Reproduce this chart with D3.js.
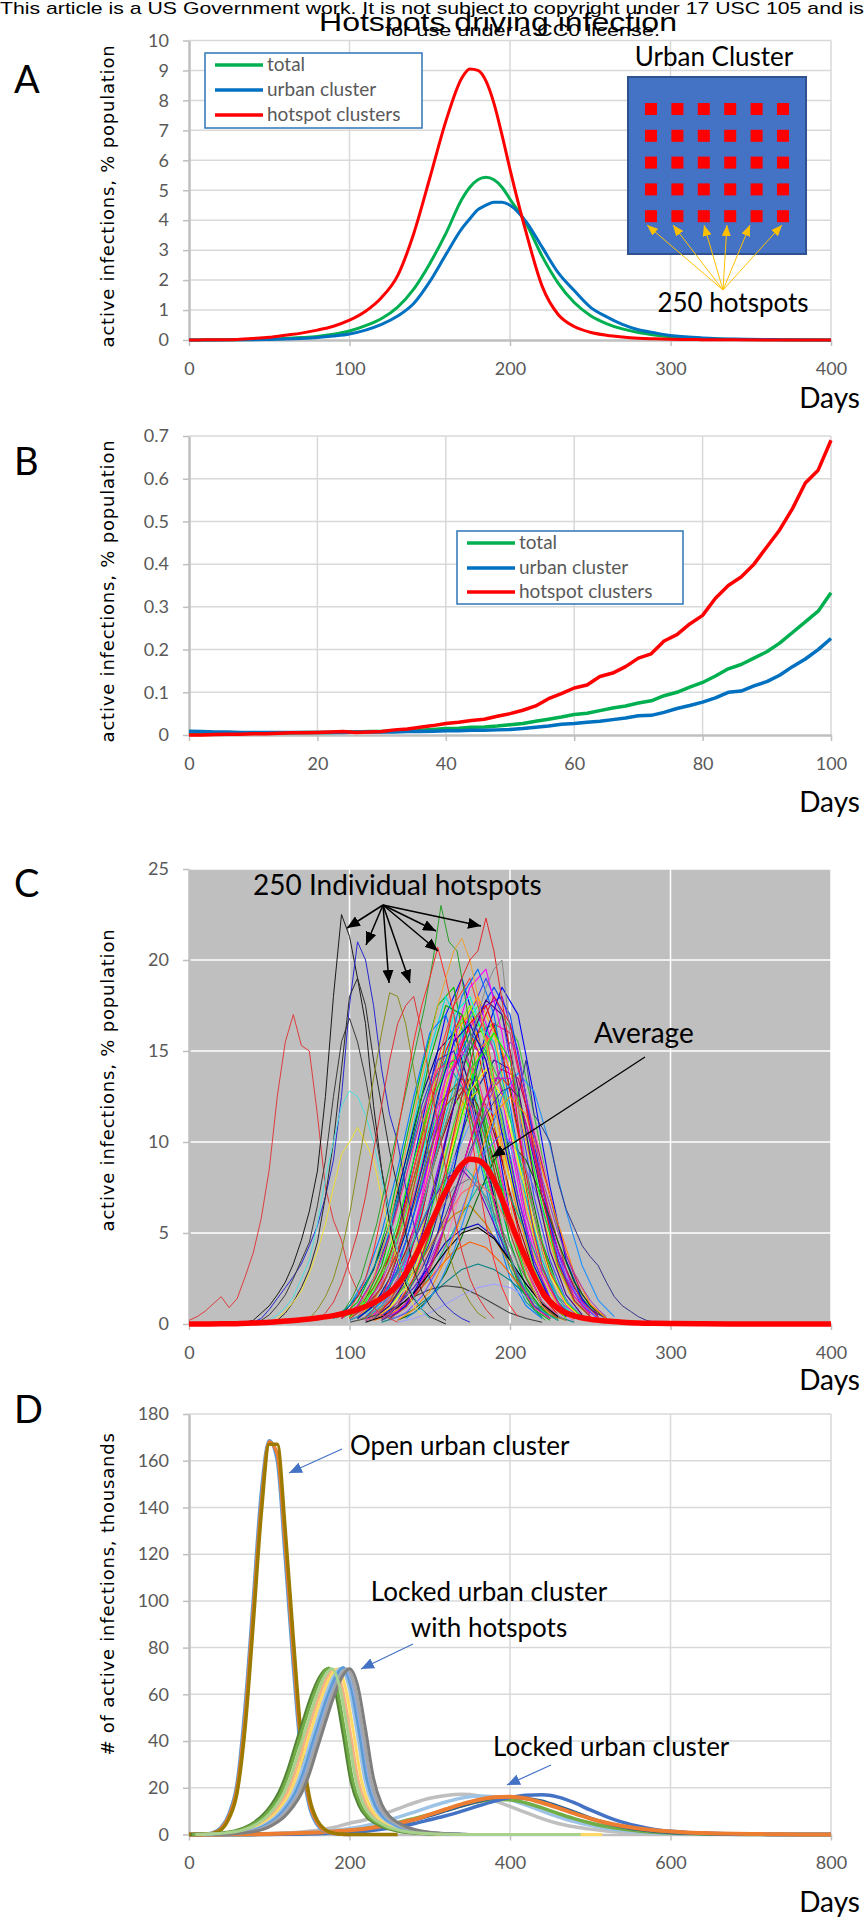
<!DOCTYPE html>
<html>
<head>
<meta charset="utf-8">
<script src="https://cdn.jsdelivr.net/npm/d3@7"></script>
<style>
  body { margin: 0; background: #fff; }
  svg { display: block; }
</style>
</head>
<body>
<div id="chart"></div>
<script>
// ---- panel A: whole epidemic, % population ----
const daysA = [0,10,20,30,40,50,60,70,80,90,100,110,120,130,140,150,160,170,175,180,185,190,195,200,210,220,230,240,250,260,270,280,290,300,320,340,370,400];
const hotspotA = [0,0.005,0.01,0.02,0.05,0.09,0.16,0.23,0.33,0.46,0.66,0.96,1.42,2.15,3.55,5.4,7.3,8.75,9.05,9.0,8.65,7.9,6.85,5.7,3.6,1.8,0.85,0.45,0.26,0.16,0.1,0.06,0.04,0.025,0.012,0.006,0.002,0];
const totalA = [0,0.002,0.005,0.01,0.02,0.035,0.05,0.08,0.12,0.19,0.3,0.48,0.72,1.1,1.7,2.55,3.55,4.7,5.1,5.35,5.43,5.35,5.1,4.7,3.9,2.8,1.9,1.25,0.82,0.55,0.37,0.25,0.17,0.11,0.05,0.02,0.006,0];
const urbanA = [0,0.001,0.003,0.006,0.01,0.02,0.03,0.05,0.08,0.13,0.2,0.33,0.52,0.8,1.22,1.95,2.85,3.72,4.05,4.35,4.5,4.6,4.6,4.5,3.95,3.1,2.25,1.65,1.1,0.78,0.52,0.34,0.24,0.15,0.07,0.03,0.01,0];

// ---- panel B: first 100 days ----
const daysB = d3.range(0, 101, 2);
const hotspotB = [0,0,0.001,0.002,0.002,0.003,0.003,0.004,0.005,0.005,0.006,0.007,0.008,0.006,0.007,0.008,0.012,0.014,0.018,0.022,0.027,0.030,0.034,0.037,0.044,0.050,0.058,0.068,0.085,0.097,0.110,0.117,0.137,0.145,0.160,0.180,0.190,0.220,0.235,0.260,0.280,0.320,0.350,0.370,0.400,0.440,0.480,0.530,0.590,0.620,0.690];
const totalB = [0.004,0.004,0.004,0.004,0.004,0.004,0.005,0.005,0.005,0.006,0.006,0.006,0.007,0.007,0.008,0.008,0.009,0.010,0.011,0.013,0.015,0.016,0.018,0.019,0.021,0.024,0.027,0.032,0.037,0.042,0.048,0.051,0.057,0.063,0.068,0.075,0.080,0.092,0.100,0.112,0.123,0.138,0.155,0.165,0.180,0.195,0.215,0.240,0.265,0.290,0.333];
const urbanB = [0.009,0.008,0.007,0.007,0.006,0.006,0.006,0.006,0.006,0.006,0.006,0.006,0.006,0.007,0.007,0.007,0.007,0.008,0.008,0.009,0.010,0.010,0.011,0.011,0.012,0.013,0.015,0.018,0.021,0.025,0.027,0.030,0.032,0.036,0.040,0.045,0.046,0.053,0.062,0.069,0.077,0.087,0.100,0.103,0.115,0.125,0.140,0.160,0.178,0.200,0.226];

const legendNames = ['total', 'urban cluster', 'hotspot clusters'];
const legendColors = ['#00b050', '#0070c0', '#ff0000'];

// ---- panel C: individual hotspots (first value at start day) ----
// sharp outliers, sampled every 5 days
const hiStart = [0, 35, 40, 45, 55, 50, 55, 75, 80, 92, 95, 100, 110, 115, 120, 120];
const hiValues = [
  [0.2,0.4,0.7,1.1,1.5,0.9,1.4,2.6,3.9,5.8,8.5,12.5,15.5,17.0,15.3,15.0,11.5,7.5,5.7,4.6,2.8,1.8,1.2,0.9,0.5,0.3,0.1],
  [0.1,0.2,0.6,1.0,1.6,2.3,3.3,4.6,6.2,8.4,12.5,18.0,22.5,21.3,19.0,16.5,12.0,8.5,5.5,3.4,2.2,1.4,0.8,0.4,0.2,0],
  [0.1,0.3,0.8,1.4,2.0,2.6,3.3,4.3,5.4,7.0,9.0,12.5,17.5,21.0,20.0,17.5,14.0,11.5,10.0,7.5,5.5,3.8,2.5,1.6,1.0,0.6,0.3,0.1],
  [0.2,0.5,1.0,1.6,2.5,3.5,4.5,6.5,9.0,12.5,15.5,16.8,15.5,13.5,11.0,8.5,6.0,4.0,2.5,1.5,0.8,0.3],
  [0.2,0.6,1.2,2.0,3.0,4.5,7.0,10.0,14.0,18.0,19.0,17.5,14.5,12.0,9.5,7.5,5.0,3.0,1.8,1.0,0.5,0.2],
  [0.2,0.5,0.9,1.5,2.5,3.5,5.5,8.0,10.0,12.0,12.8,12.5,11.5,10.0,8.0,6.0,4.0,2.5,1.5,0.8,0.3],
  [0.3,0.7,1.2,1.8,2.8,4.0,5.5,7.5,9.3,10.0,10.8,10.0,9.0,7.0,5.0,3.5,2.0,1.0,0.5],
  [0.3,0.8,1.5,2.5,4.0,6.0,8.5,11.0,13.5,16.0,18.2,18.0,16.5,14.0,11.5,9.0,6.5,4.5,3.0,2.0,1.2,0.6,0.3],
  [0.2,0.6,1.2,2.2,3.5,5.0,7.0,9.5,12.0,14.5,16.5,17.5,18.0,16.0,13.5,11.0,8.5,6.0,4.0,2.5,1.5,0.8,0.3],
  [0.3,0.8,1.5,2.5,4.0,5.5,7.5,9.5,11.5,13.5,15.5,17.5,20.0,23.0,21.0,20.5,18.0,15.0,12.0,9.0,6.5,4.5,3.0,2.0,1.2,0.6,0.2],
  [0.3,0.8,1.5,2.5,4.0,6.0,8.0,10.5,13.0,15.5,17.5,19.0,20.7,19.0,17.0,14.0,11.0,8.0,5.5,3.5,2.0,1.0,0.4],
  [0.3,0.8,1.5,2.5,4.0,5.5,7.5,9.5,11.5,13.5,15.5,17.5,19.0,20.5,21.2,20.0,18.0,15.5,12.5,9.5,6.5,4.5,3.0,1.8,1.0,0.5],
  [0.3,0.8,1.5,2.5,3.8,5.5,7.5,9.5,11.5,13.5,15.5,17.5,19.0,20.0,20.5,22.3,20.5,17.8,15.0,11.0,7.5,5.0,3.2,2.0,1.2,0.6,0.3],
  [0.3,0.8,1.5,2.5,3.8,5.0,6.5,8.0,9.5,11.0,12.5,14.0,15.5,17.0,18.5,19.5,20.0,16.0,12.0,8.5,6.0,4.0,2.5,1.5,0.8,0.3],
  [0.2,0.5,1.0,1.6,2.3,3.0,4.0,5.0,6.0,7.2,8.3,9.5,10.5,11.5,12.2,12.8,13.0,12.5,14.5,11.5,10.8,10.0,7.8,6.3,5.3,4.3,3.7,3.2,2.3,1.5,1.0,0.7,0.4,0.2,0.1],
  [0.3,0.6,1.0,1.5,2.0,2.7,3.5,4.5,5.5,6.7,8.0,9.2,10.5,11.8,13.0,14.2,15.5,15.0,12.5,10.5,8.0,6.5,5.0,3.8,2.8,2.0,1.3,0.8,0.4]
];
const hiColors = ['#e03c3c','#1a1a1a','#2828d0','#3a3a3a','#2a2a2a','#4ae0e0','#f0e030','#8c8c1e','#e03232','#28a028','#ff2a2a','#f0a030','#e62828','#8a8a8a','#34348a','#a030c8'];

// the dense bulk, sampled every 10 days
const massStart = [100,110,95,105,100,115,100,110,90,105,120,95,110,100,115,105,125,100,90,110,120,105,115,100,130,95,105,110,100,120,105,110,115,120,100,130,125,95,120,110,
  115,105,125,115,100,105,120,110,100,115,95,125,110,120,105,130,110,125,115,120,110,100,135,95,105,115,130,100,120,105];
const massValues = [
  [0.3,1,2.5,5,9,13,17,19,16,11,6,3,1.2,0.4],
  [0.2,0.8,2,4.5,8,12.5,16,18,15,10,5.5,2.5,1,0.3],
  [0.4,1.2,3,6,10,14,17.5,18.5,14,9,5,2.2,0.8,0.2],
  [0.3,1,2.5,5.5,9.5,13,16,17,14.5,10,6,3,1.2,0.4],
  [0.5,1.5,3.5,7,11,15,18,16,12,8,4.5,2,0.8,0.2],
  [0.3,1,2.5,5,8.5,12,15.5,17.5,18,15,10,5.5,2.5,1,0.3],
  [0.3,1,2.5,5,8.5,12,15,17,15,11,7,3.5,1.5,0.5],
  [0.3,1,2.5,5,8,11,14,16,16.5,13,8.5,4.5,2,0.7,0.2],
  [0.3,1,2.5,5,8.5,12.5,16,17,14,9.5,5.5,2.5,1,0.3],
  [0.3,1.2,3,6,10,14,17,18,15.5,11,6.5,3,1.2,0.4],
  [0.3,1,2.5,5,8,11.5,14.5,16.5,16,12,7,3.5,1.5,0.5],
  [0.5,1.5,3,5.5,9,12.5,15,16,13,9,5,2.5,1,0.3],
  [0.4,1.3,3,6,9.5,13,16,17.5,15,10.5,6,3,1.2,0.4],
  [0.3,1,2,4,7,10,12.5,13.5,12,9,5.5,3,1.2,0.4],
  [0.3,1.2,3,6,10,14,17,19,17,12,7,3.5,1.3,0.4],
  [0.4,1.3,3,6.5,10.5,14.5,17.5,19,16,11,6.5,3,1.2,0.3],
  [0.3,1,2.5,5,8.5,12,15,17,15.5,11.5,7,3.5,1.4,0.5],
  [0.3,1,2.3,4.5,8,11.5,14.5,15.5,13,9.5,6,3,1.2,0.4],
  [0.3,1,2.2,4,7,10,13,14.5,13,10,6,3,1.2,0.4],
  [0.3,1,2.5,5,9,13,16.5,18,16,11.5,6.5,3,1.2,0.3],
  [0.3,1,2.5,4.5,7.5,10.5,13,14.5,14,11,7,4,2,0.8,0.3],
  [0.3,1,2,4,6.5,9.5,12,13.5,12,9,5.5,2.8,1.1,0.3],
  [0.3,1,2,4,6.5,9,11,12,11,8.5,5.5,3,1.3,0.4],
  [0.4,1.2,2.8,5.5,9,12,14,15,13,9.5,5.5,2.6,1,0.3],
  [0.3,1,2.2,4.5,7.5,10.5,13,14,12.5,9,5.5,2.8,1.1,0.3],
  [0.3,0.9,2,3.8,6.5,9.5,12,13,11.5,8.5,5,2.5,1,0.3],
  [0.3,1,2.2,4.5,7.5,11,14,16,15,11.5,7,3.5,1.4,0.4],
  [0.3,0.9,2,3.8,6.5,9.5,12,12.8,11,8,5,2.5,1,0.3],
  [0.2,0.6,1.4,2.8,4.5,6.5,8,8.5,7.5,5.5,3.5,1.8,0.7,0.2],
  [0.2,0.6,1.4,2.6,4.3,6,7.5,8,7,5,3,1.5,0.6,0.2],
  [0.2,0.5,1.2,2.2,3.5,5,6,6.5,5.5,4,2.5,1.2,0.5,0.2],
  [0.2,0.5,1,2,3.2,4.5,5.2,5.5,4.8,3.5,2.2,1.1,0.4],
  [0.2,0.5,1.1,2,3,4,4.5,4.2,3.3,2.2,1.3,0.6,0.2],
  [0.1,0.4,0.8,1.5,2.3,3,3.3,3,2.4,1.6,0.9,0.4,0.1],
  [0.1,0.3,0.6,1.0,1.5,1.9,2.1,2.0,1.6,1.1,0.6,0.3,0.1],
  [0.1,0.3,0.6,1.1,1.6,2.0,2.2,2.0,1.5,1.0,0.5,0.2],
  [0.3,1,2.2,4.2,7,10,12.5,14,13.5,10.5,7,3.8,1.6,0.5],
  [0.3,0.8,1.8,3.5,6,9,11.5,12.5,11,8,5,2.5,1,0.3],
  [0.4,1.2,3,6,10,14,17,18.5,17,12.5,7.5,3.5,1.3,0.4],
  [0.3,1,2.5,5,8.5,12.5,15.5,17,15,10.5,6,2.8,1.1,0.3],
  [0.5,1.5,3.5,7,11.5,15.5,18.5,19.5,16,11,6,2.8,1,0.3],
  [0.3,1,2.5,5,9,13.5,17,18,15.5,11,6.5,3,1.2,0.4],
  [0.3,1,2.5,5,8.5,12.5,16,18.5,17,12.5,7.5,3.5,1.3,0.4],
  [0.3,1.2,3,6,10,14,16.5,17.5,15,10.5,6,2.8,1.1,0.3],
  [0.4,1.4,3.2,6.5,10.5,14.5,17.5,17,13,8.5,4.5,2,0.8,0.2],
  [0.3,1,2.2,4.5,7.5,11,14,15.5,14.5,11,7,3.5,1.4,0.4],
  [0.3,1,2.5,5,8.5,12,15,16,14,10,6,3,1.2,0.4],
  [0.4,1.2,3,6,10,14.5,18,19.5,17,12,7,3.2,1.2,0.3],
  [0.3,0.9,2,4,7,10.5,13.5,15,13.5,10,6,3,1.2,0.4],
  [0.3,1,2.2,4.5,7.5,11,14,15,13,9.5,6,3,1.2,0.4],
  [0.3,1,2.5,5,8.5,12,14.5,15,12.5,8.5,5,2.5,1,0.3],
  [0.3,0.9,2,4,7,10,12.5,13.5,12.5,9.5,6,3,1.2,0.4],
  [0.3,1,2.3,4.6,8,11.5,14.5,16.5,15.5,11.5,7,3.5,1.4,0.4],
  [0.2,0.7,1.6,3.2,5.5,8.5,11.5,13.5,13.5,11,7.5,4,1.8,0.6],
  [0.2,0.6,1.3,2.5,4.2,6,7.5,8,7,5.2,3.3,1.7,0.7,0.2],
  [0.2,0.6,1.4,2.8,4.8,7,9,10,9,7,4.5,2.3,1,0.3],
  [0.2,0.5,1.2,2.4,4,5.8,7.2,7.8,7,5.2,3.3,1.7,0.7,0.2],
  [0.2,0.6,1.5,3,5,7.5,9.5,10.5,9.5,7.5,5,2.6,1.1,0.3],
  [0.3,0.9,2,4,6.8,10,12.8,14,12.5,9,5.5,2.7,1.1,0.3],
  [0.3,1,2.4,4.8,8,11.5,14.5,16,14.5,10.5,6.5,3.2,1.3,0.4],
  [0.1,0.4,0.9,1.7,2.8,4,5,5.3,4.7,3.5,2.2,1.1,0.4],
  [0.3,0.9,2,4,6.5,9.5,12,13,11.5,8.5,5,2.5,1,0.3],
  [0.3,0.9,2,4,6.8,9.8,12.5,13.8,12.8,9.8,6.2,3.2,1.3,0.4],
  [0.3,1,2.4,4.8,8,11.5,14,14.5,12,8.5,5,2.4,0.9,0.3],
  [0.3,1,2.5,5,8.5,12.5,16,17.5,15.5,11,6.5,3,1.2,0.3],
  [0.3,1,2.4,4.8,8.2,12,15.5,17.8,17,13,8,4,1.6,0.5],
  [0.2,0.8,1.8,3.6,6,9,11.5,12.5,11.5,8.5,5.5,2.8,1.1,0.3],
  [0.2,0.6,1.4,2.8,4.6,6.6,8.2,8.8,7.8,5.8,3.6,1.8,0.7,0.2],
  [0.3,1,2.5,5,8.5,12.5,16,18,16.5,12,7,3.3,1.3,0.4],
  [0.3,1,2.5,5,8.5,12.5,15.5,16.5,14.5,10.5,6.5,3.2,1.3,0.4]
];
const massColors = ['#0000ff','#ff00ff','#00c000','#ff8000','#00e0e0','#8000ff','#ff0000','#008000','#0080ff','#c0c000','#ff0080','#000080','#00ff80','#804000','#4040ff','#ff4040','#40c040','#c040c0','#00a0a0','#ffc000','#2020a0','#a00000','#60a0ff','#00ff00','#ff80c0','#808000','#0060c0','#e0e000','#6000c0','#00c080','#c08000','#0000c0','#ff6000','#008080','#404040','#a0a0ff','#c00060','#40ff40','#0040ff','#ff00c0',
  '#ff00ff','#00ffff','#0000ff','#ff0000','#00b000','#9900ff','#ffa000','#0070ff','#ff3399','#33cc33','#3333cc','#cc3333','#00cccc','#cc00cc','#808080','#006600','#ff6666','#6666ff','#ffff00','#00ff00','#000000','#a0522d','#1e90ff','#ff1493','#7cfc00','#4b0082','#ff8c00','#20b2aa','#dc143c','#0000cd'];
const averageC = hotspotA;

// ---- panel D: active infections, thousands ----
// open urban cluster, every 10 days from day 0
const openValues = [
  [0,0,0.2,0.8,3,9,22,55,100,146,168.5,160,118,72,33,12,4,1.2,0.4,0.1,0],
  [0,0,0.1,0.6,2.5,8,20,50,95,141,168,163,124,78,37,14,5,1.5,0.5,0.1,0],
  [0,0,0.1,0.5,2,7,18,46,90,137,167,167,130,84,41,16,6,2,0.6,0.2,0,0,0,0,0,0,0]
];
const openColors = ['#5b9bd5', '#ed7d31', '#9c7a00'];

// locked urban cluster with hotspots, every 10 days from start day
const lockedHsStart = [2, 4, 11, 15, 19, 22, 25, 27, 30, 8];
const lockedHsValues = [
  [0,0.1,0.2,0.4,0.7,1.2,2.1,3.4,5.4,8.3,12.4,18,26.5,37.5,48.5,59,67,71,62,43,22.5,12.2,7.3,4.9,3.2,2.1,1.3,0.85,0.55,0.35,0.2,0.1,0.05,0],
  [0,0.1,0.2,0.4,0.7,1.2,2,3.3,5.2,8,12,17.5,26,37,48,58.5,67,71.3,63,44,23,12.5,7.5,5,3.3,2.2,1.4,0.9,0.6,0.4,0.25,0.15,0.05,0],
  [0,0.1,0.2,0.35,0.65,1.1,1.9,3.1,5,7.7,11.6,17,25.5,36.5,47.5,58,66.5,70.5,62.5,43.5,23,12.6,7.6,5,3.3,2.2,1.4,0.9,0.6,0.4,0.25,0.15,0.05,0],
  [0,0.1,0.2,0.4,0.7,1.2,2,3.2,5.1,7.9,11.8,17.3,25.8,36.8,47.8,58.3,66.8,70.8,62.8,43.8,23,12.5,7.5,5,3.3,2.2,1.4,0.9,0.6,0.4,0.25,0.15,0.05,0,0,0,0,0,0,0,0,0,0,0,0,0,0,0,0,0,0],
  [0,0.1,0.2,0.4,0.7,1.2,2,3.3,5.2,8,12,17.5,26,37,48,58.5,67,71.2,63.5,44.5,23.5,12.8,7.7,5.1,3.4,2.2,1.4,0.9,0.6,0.4,0.25,0.15,0.05,0],
  [0,0.1,0.2,0.4,0.7,1.2,2,3.3,5.2,8,12,17.5,26,37,48,58.5,67,71.5,63,44,23,12.5,7.5,5,3.3,2.2,1.4,0.9,0.6,0.4,0.25,0.15,0.05,0],
  [0,0.1,0.2,0.4,0.7,1.2,2,3.3,5.2,8,12,17.5,26,37,48,58.5,66.5,70.5,62.5,44,23.5,12.8,7.6,5,3.3,2.2,1.4,0.9,0.6,0.4,0.25,0.15,0.05,0],
  [0,0.1,0.2,0.4,0.7,1.2,2,3.3,5.2,8,12,17.5,26,37,48,58.5,67,71,63,44,23,12.5,7.5,5,3.3,2.2,1.4,0.9,0.6,0.4,0.25,0.15,0.05,0],
  [0,0.1,0.2,0.4,0.7,1.2,2,3.3,5.2,8,12,17.5,26,37,48,58.5,67,71,64,45,24,13,7.8,5.2,3.4,2.3,1.5,1,0.6,0.4,0.25,0.15,0.05,0],
  [0,0.1,0.2,0.4,0.7,1.2,2,3.3,5.2,8,12,17.5,26,37,48,58.5,67,71,63,44,23,12.5,7.5,5,3.3,2.2,1.4,0.9,0.6,0.4,0.25,0.15,0.05,0,0,0,0,0,0,0,0,0,0,0,0,0,0,0,0]
];
const lockedHsColors = ['#548235','#70ad47','#f4b183','#ffd966','#9dc3e6','#5b9bd5','#8faadc','#a5a5a5','#7f7f7f','#a9d18e'];

// locked urban cluster, every 20 days from day 0
const lockedValues = [
  [0,0,0.05,0.1,0.2,0.4,0.7,1.1,1.8,3,4.8,6.3,8.5,11,13.5,15.5,16.7,17.2,16.6,14.5,12,9.4,6.8,4.7,3.3,2.3,1.5,0.9,0.6,0.4,0.3,0.2,0.15,0.1,0.05,0,0,0,0,0,0],
  [0,0,0,0.05,0.1,0.2,0.4,0.7,1.1,1.7,2.6,3.8,5.4,7.3,9.5,11.8,13.9,15.6,16.5,16.2,14.8,12.6,10,7.6,5.5,3.9,2.7,1.8,1.2,0.8,0.5,0.35,0.2,0.1,0.05,0,0,0,0,0,0],
  [0,0,0,0,0.05,0.1,0.2,0.4,0.7,1.1,1.7,2.6,3.7,5.1,6.8,8.6,10.5,12.4,14,15,14.9,13.5,11.4,9,6.8,4.9,3.4,2.3,1.5,1,0.6,0.4,0.25,0.15,0.08,0.04,0,0,0,0,0],
  [0,0,0,0,0.05,0.1,0.2,0.35,0.6,1,1.5,2.3,3.3,4.6,6.2,8.1,10.2,12.3,14.2,15.7,16.1,15.4,14.3,12,9.6,7,4.9,3.3,2.2,1.4,0.9,0.6,0.4,0.25,0.15,0.1,0.05,0,0,0,0],
  [0,0,0,0,0,0,0.1,0.2,0.35,0.6,0.9,1.4,2.2,3.3,4.6,6.3,8,10,12.2,14.2,15.8,16.8,17,16,13.6,10.5,7.7,5.3,3.5,2.2,1.4,0.9,0.6,0.4,0.25,0.15,0.1,0.05,0,0,0],
  [0,0,0.05,0.1,0.15,0.25,0.4,0.6,0.9,1.3,1.8,2.5,3.5,4.8,6.3,8.5,10.8,13,14.8,15.9,16.2,15.4,13.6,11.4,9,6.8,5,3.6,2.6,1.8,1.3,0.9,0.65,0.45,0.3,0.2,0.15,0.1,0.05,0.02,0]
];
const lockedColors = ['#bfbfbf','#9dc3e6','#70ad47','#255e91','#4472c4','#ed7d31'];

const ticksA = { x: [0,100,200,300,400], y: [0,1,2,3,4,5,6,7,8,9,10] };
const ticksB = { x: [0,20,40,60,80,100], y: [0,0.1,0.2,0.3,0.4,0.5,0.6,0.7] };
const ticksC = { x: [0,100,200,300,400], y: [0,5,10,15,20,25] };
const ticksD = { x: [0,200,400,600,800], y: [0,20,40,60,80,100,120,140,160,180] };

// ---------------------------------------------------------------
const W = 864, H = 1921;
const plotLeft = 189, plotRight = 831;
const labelFont = 'Lato, "Open Sans", sans-serif';

const svg = d3.select('#chart').append('svg')
  .attr('width', W).attr('height', H)
  .attr('viewBox', `0 0 ${W} ${H}`);

const defs = svg.append('defs');
function arrowMarker(id, color, len, wid) {
  defs.append('marker')
    .attr('id', id)
    .attr('viewBox', `0 0 ${len} ${wid}`)
    .attr('refX', len).attr('refY', wid / 2)
    .attr('markerWidth', len).attr('markerHeight', wid)
    .attr('markerUnits', 'userSpaceOnUse')
    .attr('orient', 'auto')
    .append('path')
    .attr('d', `M0,0L${len},${wid / 2}L0,${wid}Z`)
    .attr('fill', color);
}
arrowMarker('arrow-yellow', '#ffc000', 11, 9);
arrowMarker('arrow-black', '#000', 13, 11);
arrowMarker('arrow-blue', '#4472c4', 13, 11);

function panel({ top, bottom, xDomain, yDomain, ticks, yFormat, background }) {
  const x = d3.scaleLinear().domain(xDomain).range([plotLeft, plotRight]);
  const y = d3.scaleLinear().domain(yDomain).range([bottom, top]);
  const g = svg.append('g');
  const gridColor = background ? '#ffffff' : '#d9d9d9';

  if (background) {
    g.append('rect')
      .attr('x', plotLeft).attr('y', top)
      .attr('width', plotRight - plotLeft).attr('height', bottom - top)
      .attr('fill', background);
  }

  g.append('g').selectAll('line')
    .data(ticks.y.slice(1))
    .join('line')
    .attr('x1', plotLeft).attr('x2', plotRight)
    .attr('y1', (d) => y(d)).attr('y2', (d) => y(d))
    .attr('stroke', gridColor).attr('stroke-width', 1.5);

  g.append('g').selectAll('line')
    .data(ticks.x.slice(1))
    .join('line')
    .attr('x1', (d) => x(d)).attr('x2', (d) => x(d))
    .attr('y1', top).attr('y2', bottom)
    .attr('stroke', gridColor).attr('stroke-width', 1.5);

  const yAxis = d3.axisLeft(y).tickValues(ticks.y).tickSize(6).tickSizeOuter(0).tickPadding(14);
  if (yFormat) yAxis.tickFormat(yFormat);
  const xAxis = d3.axisBottom(x).tickValues(ticks.x).tickSize(6).tickSizeOuter(0).tickPadding(16)
    .tickFormat(d3.format('d'));

  const ya = g.append('g').attr('transform', `translate(${plotLeft},0)`).call(yAxis);
  const xa = g.append('g').attr('transform', `translate(0,${bottom})`).call(xAxis);

  [ya, xa].forEach((a) => {
    a.select('.domain').attr('stroke', '#bfbfbf').attr('stroke-width', 2.5);
    a.selectAll('.tick line').attr('stroke', '#bfbfbf').attr('stroke-width', 1.5);
    a.selectAll('text')
      .attr('font-family', labelFont)
      .attr('font-size', 18)
      .attr('fill', '#595959');
  });

  const lines = g.append('g');
  return { g, x, y, lines };
}

function seriesPoints(days, values) {
  return values.map((v, i) => [days[i], v]);
}
function stepPoints(start, step, values) {
  return values.map((v, i) => [start + i * step, v]);
}

function drawLine(p, points, color, width, curve) {
  const line = d3.line()
    .x((d) => p.x(d[0]))
    .y((d) => p.y(d[1]))
    .curve(curve || d3.curveMonotoneX);
  p.lines.append('path')
    .datum(points)
    .attr('d', line)
    .attr('fill', 'none')
    .attr('stroke', color)
    .attr('stroke-width', width)
    .attr('stroke-linejoin', 'round');
}

function text(x, y, str, opts = {}) {
  return svg.append('text')
    .attr('x', x).attr('y', y)
    .attr('font-family', opts.family || labelFont)
    .attr('font-size', opts.size || 26)
    .attr('fill', opts.fill || '#000')
    .attr('text-anchor', opts.anchor || 'start')
    .text(str);
}

function yTitle(str, cy) {
  svg.append('text')
    .attr('transform', `translate(114,${cy}) rotate(-90)`)
    .attr('text-anchor', 'middle')
    .attr('font-family', '"DejaVu Sans", Verdana, sans-serif')
    .attr('font-size', 18)
    .attr('letter-spacing', 0.8)
    .attr('fill', '#000')
    .text(str);
}

function arrow(x1, y1, x2, y2, color, marker, width) {
  svg.append('line')
    .attr('x1', x1).attr('y1', y1).attr('x2', x2).attr('y2', y2)
    .attr('stroke', color).attr('stroke-width', width)
    .attr('marker-end', `url(#${marker})`);
}

function legend(x0, y0, w, h, rowY) {
  svg.append('rect')
    .attr('x', x0).attr('y', y0).attr('width', w).attr('height', h)
    .attr('fill', '#fff').attr('stroke', '#2e75b6').attr('stroke-width', 1.5);
  legendNames.forEach((name, i) => {
    const yy = y0 + rowY[i];
    svg.append('line')
      .attr('x1', x0 + 10).attr('x2', x0 + 58).attr('y1', yy).attr('y2', yy)
      .attr('stroke', legendColors[i]).attr('stroke-width', 3.5);
    text(x0 + 62, yy + 6, name, { size: 19, fill: '#595959' });
  });
}

// ---- header ----
text(0, 14, 'This article is a US Government work. It is not subject to copyright under 17 USC 105 and is', {
  family: '"Liberation Sans", Arial, sans-serif', size: 17,
}).attr('textLength', 864).attr('lengthAdjust', 'spacingAndGlyphs');
text(319, 31, 'Hotspots driving infection', {
  family: '"Liberation Sans", Arial, sans-serif', size: 26,
}).attr('textLength', 358).attr('lengthAdjust', 'spacingAndGlyphs');
text(385, 36, 'for use under a CC0 license.', {
  family: '"Liberation Sans", Arial, sans-serif', size: 17,
}).attr('textLength', 275).attr('lengthAdjust', 'spacingAndGlyphs');

// ---- A ----
const pA = panel({ top: 40.5, bottom: 340, xDomain: [0, 400], yDomain: [0, 10], ticks: ticksA });
drawLine(pA, seriesPoints(daysA, totalA), legendColors[0], 3);
drawLine(pA, seriesPoints(daysA, urbanA), legendColors[1], 3);
drawLine(pA, seriesPoints(daysA, hotspotA), legendColors[2], 3);
legend(205, 53, 217, 75, [12, 37, 62]);

// inset: urban cluster with hotspots
text(714, 66, 'Urban Cluster', { anchor: 'middle', size: 26 });
svg.append('rect')
  .attr('x', 628).attr('y', 77).attr('width', 178).attr('height', 177)
  .attr('fill', '#4472c4').attr('stroke', '#2f528f').attr('stroke-width', 2);
const spotCols = d3.range(6), spotRows = d3.range(5);
svg.append('g').selectAll('rect')
  .data(d3.cross(spotCols, spotRows))
  .join('rect')
  .attr('x', (d) => 645 + d[0] * 26.4)
  .attr('y', (d) => 103 + d[1] * 26.8)
  .attr('width', 12).attr('height', 12)
  .attr('fill', '#ff0000');
[647, 673, 704, 727, 750, 782].forEach((tx) => arrow(723, 290, tx, 225, '#ffc000', 'arrow-yellow', 1));
text(733, 312, '250 hotspots', { anchor: 'middle', size: 26 });

// ---- B ----
const pB = panel({
  top: 436, bottom: 735, xDomain: [0, 100], yDomain: [0, 0.7], ticks: ticksB,
  yFormat: (d) => (d === 0 ? '0' : d.toFixed(1)),
});
drawLine(pB, seriesPoints(daysB, totalB), legendColors[0], 3.5, d3.curveLinear);
drawLine(pB, seriesPoints(daysB, urbanB), legendColors[1], 3.5, d3.curveLinear);
drawLine(pB, seriesPoints(daysB, hotspotB), legendColors[2], 3.5, d3.curveLinear);
legend(457, 531, 226, 73, [12, 37, 61]);

// ---- C ----
const pC = panel({ top: 869, bottom: 1324, xDomain: [0, 400], yDomain: [0, 25], ticks: ticksC, background: '#bfbfbf' });
massValues.forEach((vals, i) => drawLine(pC, stepPoints(massStart[i], 10, vals), massColors[i], 1.1, d3.curveLinear));
hiValues.forEach((vals, i) => drawLine(pC, stepPoints(hiStart[i], 5, vals), hiColors[i], 1, d3.curveLinear));
drawLine(pC, seriesPoints(daysA, averageC), '#ff0000', 5.5);

text(253, 895, '250 Individual hotspots', { size: 28 });
[[347, 928], [366, 945], [389, 983], [410, 983], [436, 931], [438, 951], [481, 926]]
  .forEach(([tx, ty]) => arrow(383, 905, tx, ty, '#000', 'arrow-black', 1.5));
text(594, 1043, 'Average', { size: 28 });
arrow(645, 1057, 492, 1157, '#000', 'arrow-black', 1.2);

// ---- D ----
const pD = panel({ top: 1414, bottom: 1834.5, xDomain: [0, 800], yDomain: [0, 180], ticks: ticksD });
lockedValues.forEach((vals, i) => drawLine(pD, stepPoints(0, 20, vals), lockedColors[i], i === 5 ? 4 : 3.5));
openValues.forEach((vals, i) => drawLine(pD, stepPoints(0, 10, vals), openColors[i], 3.5));
lockedHsValues.forEach((vals, i) => drawLine(pD, stepPoints(lockedHsStart[i], 10, vals), lockedHsColors[i], 3));

text(350, 1455, 'Open urban cluster', { size: 26 });
arrow(342, 1449, 289, 1473, '#4472c4', 'arrow-blue', 1.2);
text(489, 1601, 'Locked urban cluster', { size: 26, anchor: 'middle' });
text(489, 1637, 'with hotspots', { size: 26, anchor: 'middle' });
arrow(413, 1644, 361, 1669, '#4472c4', 'arrow-blue', 1.2);
text(493, 1756, 'Locked urban cluster', { size: 26 });
arrow(551, 1765, 507, 1785, '#4472c4', 'arrow-blue', 1.2);

// ---- axis titles, panel letters ----
yTitle('active infections, % population', 196);
yTitle('active infections, % population', 591);
yTitle('active infections, % population', 1080);
yTitle('# of active infections, thousands', 1594);

[408, 812, 1390, 1912].forEach((by) => text(860, by, 'Days', { size: 28, anchor: 'end' }));
[['A', 93], ['B', 475], ['C', 897], ['D', 1423]].forEach(([l, by]) => text(14, by, l, { size: 38 }));
</script>
</body>
</html>
